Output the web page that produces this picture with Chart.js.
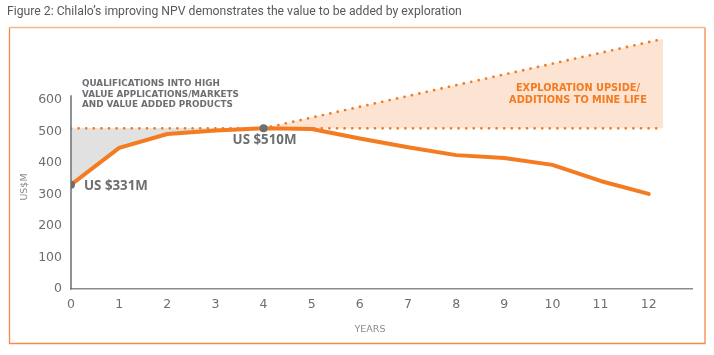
<!DOCTYPE html>
<html><head><meta charset="utf-8">
<script src="https://cdn.jsdelivr.net/npm/chart.js@4.4.0/dist/chart.umd.min.js"></script>
<style>html,body{margin:0;padding:0;background:#fff;} #wrap{width:714px;height:355px;position:relative;}</style>
</head><body><div id="wrap"><canvas id="c"></canvas></div>
<script>
// ---- data ----
const years = [0,1,2,3,4,5,6,7,8,9,10,11,12];
const npv = [331,448,492,503,510,508,478,450,425,416,394,343,302];
const xTicks = [0,1,2,3,4,5,6,7,8,9,10,11,12];
const yTicks = [0,100,200,300,400,500,600];
const baseValue = 510;
const baseYears = [0, 12.3];
const upsideYears = [4, 12.3];
const upsideValues = [510, 794];
const earlyYears = [0,1,2,3,4];
const earlyNpv = [331,448,492,503,510];
const markerYears = [0,4];
const markerValues = [331,510];
const markerLabels = ['US $331M','US $510M'];
const titleText = 'Figure 2: Chilalo\u2019s improving NPV demonstrates the value to be added by exploration';
const qualText = ['QUALIFICATIONS INTO HIGH','VALUE APPLICATIONS/MARKETS','AND VALUE ADDED PRODUCTS'];
const upsideText = ['EXPLORATION UPSIDE/','ADDITIONS TO MINE LIFE'];
const yTitle = 'US$M';
const xTitle = 'YEARS';

const ORANGE = '#f47b20';
const GREY = '#6d6e71';
const FONT = "'DejaVu Sans', sans-serif";
const BOLDFONT = "'Open Sans', sans-serif";
const pts = (xs, ys) => xs.map((x, i) => ({x, y: ys[i]}));
const yMaxAxis = 615;

function fitFont(ctx, text, weight, family, targetW) {
  ctx.font = weight + " 20px " + family;
  const w = ctx.measureText(text).width;
  return weight + " " + (20 * targetW / w).toFixed(2) + "px " + family;
}

const annot = {
  id: 'annot',
  afterDraw(chart) {
    const ctx = chart.ctx, xs = chart.scales.x, ys = chart.scales.y;
    ctx.save();
    // frame
    ctx.lineWidth = 1.3;
    ctx.strokeStyle = '#f5894a';
    ctx.beginPath();
    ctx.moveTo(9.5, 27.5); ctx.lineTo(9.5, 343.5); ctx.lineTo(705, 343.5); ctx.lineTo(705, 27.5);
    ctx.stroke();
    ctx.strokeStyle = '#f8b789';
    ctx.lineWidth = 1.6;
    ctx.beginPath(); ctx.moveTo(9.5, 27.5); ctx.lineTo(705, 27.5); ctx.stroke();
    // title
    ctx.fillStyle = '#58595b';
    ctx.font = fitFont(ctx, titleText, 'normal', 'Roboto, sans-serif', 455);
    ctx.textAlign = 'left'; ctx.textBaseline = 'middle';
    ctx.fillText(titleText, 7, 12);
    // y axis line
    const x0 = xs.getPixelForValue(0);
    ctx.strokeStyle = GREY; ctx.lineWidth = 1.5;
    ctx.beginPath(); ctx.moveTo(x0, ys.getPixelForValue(0) + 0.5); ctx.lineTo(x0, ys.getPixelForValue(yMaxAxis)); ctx.stroke();
    // axis titles
    ctx.fillStyle = '#8a8b8d';
    ctx.font = "9.5px " + FONT;
    ctx.textAlign = 'center';
    ctx.fillText(xTitle, 370, 330);
    ctx.save(); ctx.translate(24.5, 187); ctx.rotate(-Math.PI/2); ctx.fillText(yTitle, 0, 0); ctx.restore();
    // marker labels
    ctx.fillStyle = GREY;
    ctx.font = fitFont(ctx, markerLabels[0], 'bold', BOLDFONT, 64);
    ctx.textAlign = 'left';
    ctx.fillText(markerLabels[0], xs.getPixelForValue(markerYears[0]) + 13, ys.getPixelForValue(markerValues[0]) + 1);
    ctx.fillText(markerLabels[1], xs.getPixelForValue(markerYears[1]) - 31, ys.getPixelForValue(markerValues[1]) + 12);
    // qualifications
    ctx.font = fitFont(ctx, qualText[1], 'bold', FONT, 157);
    qualText.forEach((t, i) => ctx.fillText(t, 82, 84 + i * 10.6));
    // upside
    ctx.fillStyle = ORANGE;
    ctx.font = fitFont(ctx, upsideText[1], 'bold', FONT, 138);
    ctx.textAlign = 'center';
    upsideText.forEach((t, i) => ctx.fillText(t, 578, 88 + i * 12));
    ctx.restore();
  }
};

new Chart(document.getElementById('c'), {
  type: 'line',
  data: {
    datasets: [
      { // 0 main NPV line
        data: pts(years, npv), borderColor: ORANGE, borderWidth: 4, pointRadius: 0,
        tension: 0, fill: false, order: 1, borderJoinStyle: 'round', borderCapStyle: 'round'
      },
      { // 1 markers
        data: pts(markerYears, markerValues), showLine: false, pointRadius: 4,
        pointBackgroundColor: GREY, pointBorderWidth: 0, order: 0
      },
      { // 2 dotted 510 line
        data: pts(baseYears, [baseValue, baseValue]), borderColor: ORANGE, borderWidth: 2.8,
        borderDash: [0, 7.6], borderCapStyle: 'round', pointRadius: 0, fill: false, order: 2
      },
      { // 3 dotted upside line with fill
        data: pts(upsideYears, upsideValues), borderColor: ORANGE, borderWidth: 2.8,
        borderDash: [0, 7.6], borderCapStyle: 'round', pointRadius: 0,
        fill: {target: 4}, backgroundColor: '#fce3d2', order: 3
      },
      { // 4 upside base
        data: pts(upsideYears, [baseValue, baseValue]), borderWidth: 0, pointRadius: 0, fill: false, order: 5
      },
      { // 5 grey gap top
        data: pts(earlyYears, earlyYears.map(() => baseValue)), borderWidth: 0, pointRadius: 0,
        fill: {target: 6}, backgroundColor: '#e0e1e0', order: 4
      },
      { // 6 early npv
        data: pts(earlyYears, earlyNpv), borderWidth: 0, pointRadius: 0, fill: false, order: 6
      }
    ]
  },
  options: {
    responsive: true, maintainAspectRatio: false, animation: false,
    layout: {padding: {top: 27.55, right: 22, bottom: 0, left: 0}},
    plugins: {legend: {display: false}, tooltip: {enabled: false}, title: {display: false}},
    scales: {
      x: {
        type: 'linear', min: 0, max: 12.9,
        grid: {display: false, drawTicks: false},
        border: {display: true, color: '#8c8c8c', width: 1.5},
        afterBuildTicks: s => { s.ticks = xTicks.map(v => ({value: v})); },
        afterFit: s => { s.height = 66; },
        ticks: {color: GREY, font: {family: FONT, size: 12.5}, padding: 8, autoSkip: false, maxRotation: 0}
      },
      y: {
        type: 'linear', min: 0, max: 830,
        grid: {display: false, drawTicks: false},
        border: {display: false},
        afterBuildTicks: s => { s.ticks = yTicks.map(v => ({value: v})); },
        afterFit: s => { s.width = 71; },
        ticks: {color: GREY, font: {family: FONT, size: 12.5}, padding: 9, autoSkip: false}
      }
    }
  },
  plugins: [annot]
});
</script>
</body></html>
